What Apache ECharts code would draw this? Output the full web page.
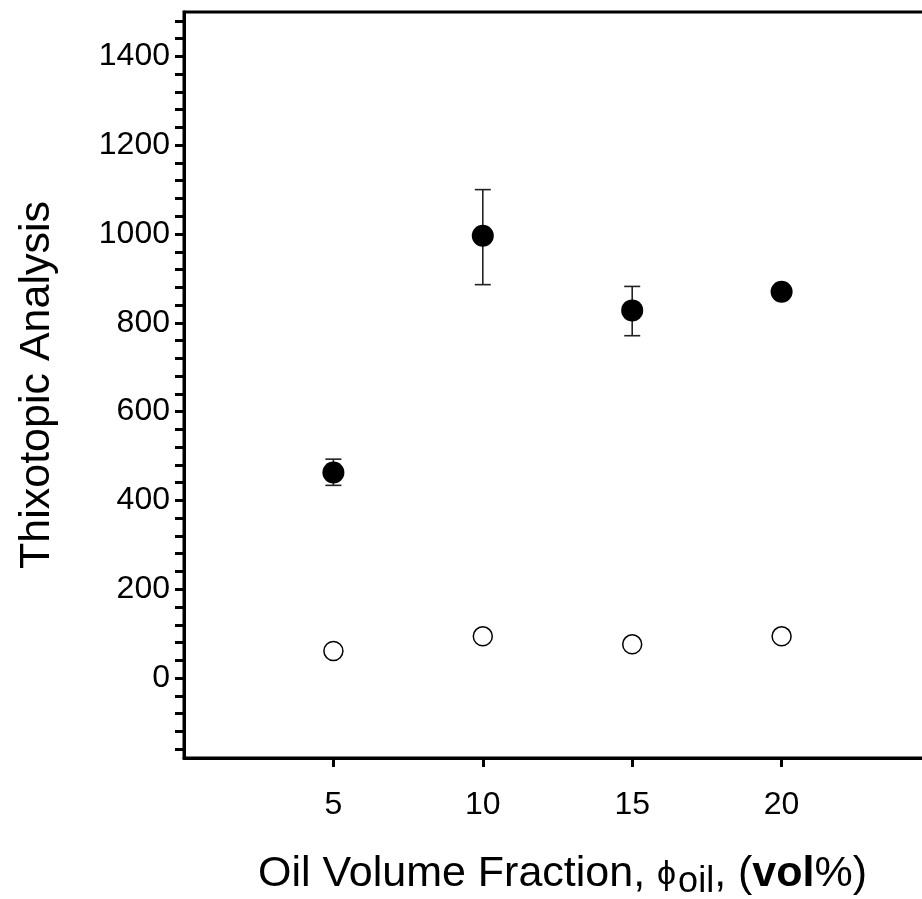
<!DOCTYPE html>
<html>
<head>
<meta charset="utf-8">
<script src="https://cdn.jsdelivr.net/npm/echarts@6/dist/echarts.min.js"></script>
<style>html,body{margin:0;padding:0;background:#fff;overflow:hidden;}#c{width:940px;height:899px;}</style>
</head>
<body>
<div id="c"></div>
<script>
const xValues = [5, 10, 15, 20];
const filledValues = [463, 996, 828, 870];
const filledErrLow = [434, 886, 771, 870];
const filledErrHigh = [493, 1100, 882, 870];
const openValues = [61, 94, 76, 94];
const yTickLabels = [0, 200, 400, 600, 800, 1000, 1200, 1400];
const yMinorTicks = [-160, -120, -80, -40, 0, 40, 80, 120, 160, 200, 240, 280, 320, 360, 400, 440, 480, 520, 560, 600, 640, 680, 720, 760, 800, 840, 880, 920, 960, 1000, 1040, 1080, 1120, 1160, 1200, 1240, 1280, 1320, 1360, 1400, 1440, 1480];
const xTickLabels = [5, 10, 15, 20];

const chart = echarts.init(document.getElementById('c'));
const font = '"Liberation Sans", Arial, sans-serif';

const errData = xValues.map((x, i) => [x, filledErrLow[i], filledErrHigh[i]]);

chart.setOption({
  animation: false,
  backgroundColor: '#fff',
  grid: {
    left: 184, top: 12, right: 9, bottom: 141,
    containLabel: false, outerBoundsMode: 'none',
    show: true, borderColor: '#000', borderWidth: 3, backgroundColor: 'transparent'
  },
  xAxis: {
    type: 'value', min: 0, max: 25,
    name: '{n|Oil Volume Fraction, }{p|ϕ}{s|oil}{n|, (}{b|vol}{n|%)}',
    nameLocation: 'middle', nameGap: 91,
    nameTextStyle: {
      padding: [0, 0, 0, 10],
      rich: {
        n: { fontFamily: font, fontSize: 43, color: '#000' },
        p: { fontFamily: font, fontSize: 34, color: '#000', padding: [0, 2, 0, 0] },
        s: { fontFamily: font, fontSize: 36, color: '#000', padding: [15, 0, 0, 0] },
        b: { fontFamily: font, fontSize: 43, color: '#000', fontWeight: 'bold' }
      }
    },
    axisLine: { show: true, onZero: false, lineStyle: { color: '#000', width: 3 } },
    axisTick: { show: true, inside: false, length: 9, lineStyle: { color: '#000', width: 3 }, customValues: xTickLabels },
    axisLabel: { show: true, customValues: xTickLabels, margin: 31, fontFamily: font, fontSize: 32, color: '#000', formatter: v => String(v) },
    splitLine: { show: false }
  },
  yAxis: {
    type: 'value', min: -180, max: 1500,
    name: 'Thixotopic Analysis',
    nameLocation: 'middle', nameGap: 125,
    nameTextStyle: { fontFamily: font, fontSize: 43, color: '#000' },
    axisLine: { show: true, onZero: false, lineStyle: { color: '#000', width: 3 } },
    axisTick: { show: true, inside: false, length: 9, lineStyle: { color: '#000', width: 3 }, customValues: yMinorTicks },
    axisLabel: { show: true, customValues: yTickLabels, margin: 14, fontFamily: font, fontSize: 32, color: '#000', formatter: v => String(v) },
    splitLine: { show: false }
  },
  series: [
    {
      type: 'custom',
      z: 1,
      data: errData,
      renderItem: function (params, api) {
        const x = api.value(0);
        const lo = api.coord([x, api.value(1)]);
        const hi = api.coord([x, api.value(2)]);
        const hw = 8;
        const style = { stroke: '#222', lineWidth: 1.6 };
        return {
          type: 'group',
          children: [
            { type: 'line', shape: { x1: lo[0], y1: lo[1], x2: hi[0], y2: hi[1] }, style: style },
            { type: 'line', shape: { x1: lo[0] - hw, y1: lo[1], x2: lo[0] + hw, y2: lo[1] }, style: style },
            { type: 'line', shape: { x1: hi[0] - hw, y1: hi[1], x2: hi[0] + hw, y2: hi[1] }, style: style }
          ]
        };
      }
    },
    {
      type: 'scatter',
      z: 3,
      symbol: 'circle',
      symbolSize: 22,
      itemStyle: { color: '#000', opacity: 1 },
      data: xValues.map((x, i) => [x, filledValues[i]])
    },
    {
      type: 'scatter',
      z: 3,
      symbol: 'circle',
      symbolSize: 19,
      itemStyle: { color: '#fff', borderColor: '#000', borderWidth: 1.5, opacity: 1 },
      data: xValues.map((x, i) => [x, openValues[i]])
    }
  ]
});
</script>
</body>
</html>
